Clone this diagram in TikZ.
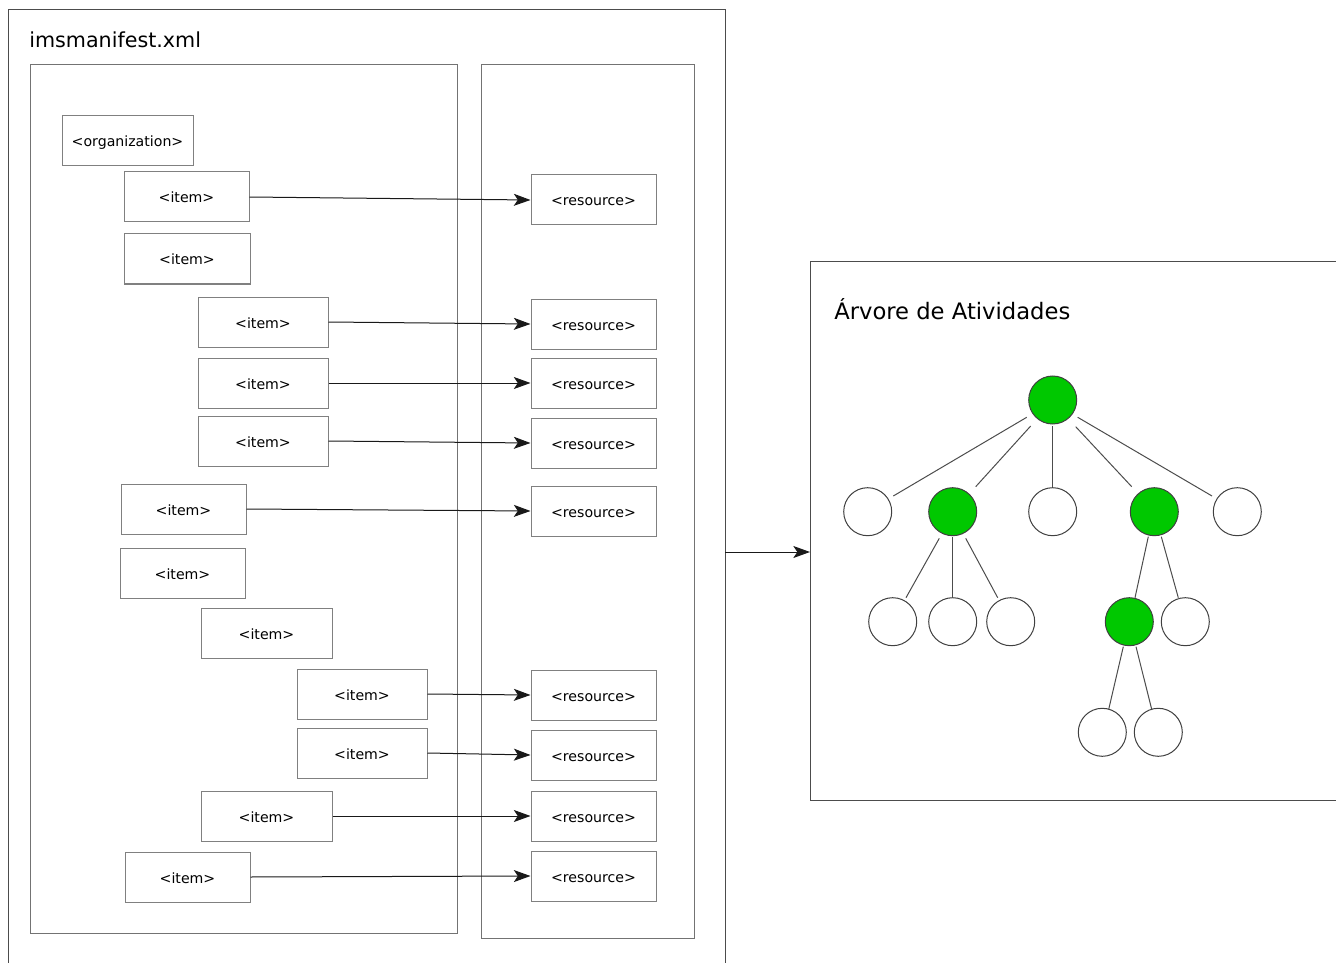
\documentclass[tikz,border=0pt]{standalone}
\usepackage{fontspec}
\setmainfont{DejaVu Sans}
\usetikzlibrary{arrows.meta}
\definecolor{actgreen}{RGB}{0,200,0}
\tikzset{
  frame/.style={draw=black!70, line width=0.75pt},
  panel/.style={draw=black!55, line width=0.75pt},
  tagbox/.style={draw=black!50, line width=0.75pt, fill=white, minimum height=37.5pt, inner sep=0pt, text height=9pt, text depth=0pt, font=\fontsize{10.6}{13}\selectfont},
  itembox/.style={tagbox, minimum width=#1*0.75pt},
  resbox/.style={tagbox, minimum width=93.75pt},
  link/.style={draw=black!90, line width=0.75pt, -{Stealth[length=12.5pt,width=9pt,inset=3pt]}},
  act/.style={circle, draw=black!75, line width=0.75pt, minimum size=36pt, inner sep=0pt, fill=white},
  done/.style={act, fill=actgreen},
  tline/.style={draw=black!70, line width=0.75pt},
  title/.style={anchor=west, inner sep=0pt}
}
\newcommand\tedge[4]{\draw[tline] ([shift={#2}]#1.center) -- ([shift={#4}]#3.center);}
\begin{document}
\begin{tikzpicture}[x=0.75pt, y=-0.75pt]
\useasboundingbox (0,0) rectangle (1336,963);
% outer frame (open at bottom)
\draw[frame] (8,963) -- (8,10) -- (725,10) -- (725,963);
\node[title, font=\fontsize{15.5}{18}\selectfont] (mtitle) at (29,40) {imsmanifest.xml};
% panels
\node[panel, minimum width=320.25pt, minimum height=651pt, inner sep=0pt] (orgpanel) at (243.5,499) {};
\node[panel, minimum width=159.75pt, minimum height=654.75pt, inner sep=0pt] (respanel) at (587.5,501.5) {};
% organization and items
\node[itembox=131] (org) at (127.5,141) {<organization>};
\node[itembox=125] (i1) at (186.5,197) {<item>};
\node[itembox=126] (i2) at (187,259) {<item>};
\node[itembox=130] (i3) at (263,322) {<item>};
\node[itembox=130] (i4) at (263,383) {<item>};
\node[itembox=130] (i5) at (263,441) {<item>};
\node[itembox=125] (i6) at (183.5,509) {<item>};
\node[itembox=125] (i7) at (182.5,573) {<item>};
\node[itembox=131] (i8) at (266.5,633) {<item>};
\node[itembox=130] (i9) at (362,694) {<item>};
\node[itembox=130] (i10) at (362,753) {<item>};
\node[itembox=131] (i11) at (266.5,816) {<item>};
\node[itembox=125] (i12) at (187.5,877) {<item>};
% resources
\node[resbox] (r1) at (593.5,200) {<resource>};
\node[resbox] (r2) at (593.5,324) {<resource>};
\node[resbox] (r3) at (593.5,383) {<resource>};
\node[resbox] (r4) at (593.5,443) {<resource>};
\node[resbox] (r5) at (593.5,511) {<resource>};
\node[resbox] (r6) at (593.5,695) {<resource>};
\node[resbox] (r7) at (593.5,755) {<resource>};
\node[resbox] (r8) at (593.5,816) {<resource>};
\node[resbox] (r9) at (593.5,876) {<resource>};
% links
\draw[link] (i1.east) -- (r1.west);
\draw[link] (i3.east) -- (r2.west);
\draw[link] (i4.east) -- (r3.west);
\draw[link] (i5.east) -- (r4.west);
\draw[link] (i6.east) -- (r5.west);
\draw[link] (i9.east) -- (r6.west);
\draw[link] (i10.east) -- (r7.west);
\draw[link] (i11.east) -- (r8.west);
\draw[link] (i12.east) -- (r9.west);
% activity tree frame
\draw[frame] (1336,262) -- (810,262) -- (810,800) -- (1336,800);
\node[title, font=\fontsize{17}{20}\selectfont] (ttitle) at (834,309.5) {Árvore de Atividades};
\coordinate (outR) at (725,552);
\coordinate (treeL) at (810,552);
\draw[link] (outR) -- (treeL);
% tree nodes
\node[done] (root) at (1052.7,400) {};
\node[act]  (a1) at (867.7,511.7) {};
\node[done] (a2) at (952.7,511.7) {};
\node[act]  (a3) at (1052.7,511.7) {};
\node[done] (a4) at (1154.3,511.7) {};
\node[act]  (a5) at (1237.3,511.7) {};
\node[act]  (b1) at (892.7,621.7) {};
\node[act]  (b2) at (952.7,621.7) {};
\node[act]  (b3) at (1010.7,621.7) {};
\node[done] (b4) at (1129.3,621.7) {};
\node[act]  (b5) at (1185.3,621.7) {};
\node[act]  (c1) at (1102.3,732.3) {};
\node[act]  (c2) at (1158.3,732.3) {};
% tree edges
\tedge{root}{(-26,17.3)}{a1}{(25.6,-15.7)}
\tedge{root}{(-22,26)}{a2}{(23,-25)}
\tedge{root}{(0,26)}{a3}{(0,-25)}
\tedge{root}{(23,26.7)}{a4}{(-22.6,-25)}
\tedge{root}{(25,17.3)}{a5}{(-25.3,-15.7)}
\tedge{a2}{(-13.4,26.6)}{b1}{(13.3,-24)}
\tedge{a2}{(0,25)}{b2}{(0,-24)}
\tedge{a2}{(13,26.6)}{b3}{(-13,-24)}
\tedge{a4}{(-6,25)}{b4}{(5.7,-24)}
\tedge{a4}{(7,25)}{b5}{(-7,-24)}
\tedge{b4}{(-6,25)}{c1}{(6.4,-23)}
\tedge{b4}{(6.7,25)}{c2}{(-6.6,-23)}
\end{tikzpicture}
\end{document}
